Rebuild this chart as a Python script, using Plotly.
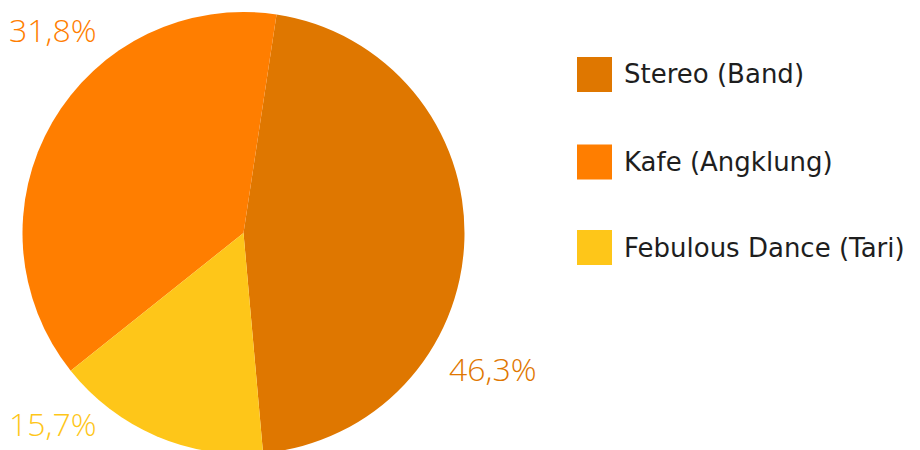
import plotly.graph_objects as go

W, H = 920, 456

categories = ["Stereo (Band)", "Kafe (Angklung)", "Febulous Dance (Tari)"]
values = [46.2, 38.1, 15.7]
pct_labels = ["46,3%", "31,8%", "15,7%"]
colors = ["#DF7700", "#FF7E00", "#FEC619"]

# label anchor positions in pixels (layout only)
label_pos = [(493, 368), (53, 30), (53, 423)]

LABEL_FONT = "Open Sans"
LEGEND_FONT = "DejaVu Sans"

CX, CY, R = 243.5, 233, 221

fig = go.Figure()
fig.add_trace(go.Pie(
    labels=categories,
    values=values,
    marker=dict(colors=colors, line=dict(width=0)),
    sort=False,
    direction="counterclockwise",
    rotation=8.6,
    textinfo="none",
    hoverinfo="label+percent",
    showlegend=False,
    domain=dict(x=[(CX - R) / W, (CX + R) / W], y=[1 - (CY + R) / H, 1 - (CY - R) / H]),
))

annotations = []
for (px, py), txt, c in zip(label_pos, pct_labels, colors):
    annotations.append(dict(
        x=px / W, y=1 - py / H, xref="paper", yref="paper",
        text=txt, showarrow=False, xanchor="center", yanchor="middle",
        font=dict(family=LABEL_FONT, size=32, color=c, weight=300),
    ))

shapes = []
leg_y = [74.5, 162, 247.5]
for i, (cat, c) in enumerate(zip(categories, colors)):
    cy = leg_y[i]
    shapes.append(dict(
        type="rect", xref="paper", yref="paper",
        x0=577 / W, x1=612 / W, y0=1 - (cy - 17.5) / H, y1=1 - (cy + 17.5) / H,
        fillcolor=c, line=dict(width=0),
    ))
    annotations.append(dict(
        x=622 / W, y=1 - cy / H, xref="paper", yref="paper",
        text=cat, showarrow=False, xanchor="left", yanchor="middle",
        font=dict(family=LEGEND_FONT, size=26, color="#1E1E1E"),
    ))

fig.update_layout(
    width=W, height=H,
    margin=dict(l=0, r=0, t=0, b=0),
    paper_bgcolor="white", plot_bgcolor="white",
    annotations=annotations, shapes=shapes,
)

fig.write_html(
    "out.html",
    config={"displayModeBar": False},
    post_script="document.body.style.margin='0';document.body.style.overflow='hidden';document.documentElement.style.overflow='hidden';",
)
